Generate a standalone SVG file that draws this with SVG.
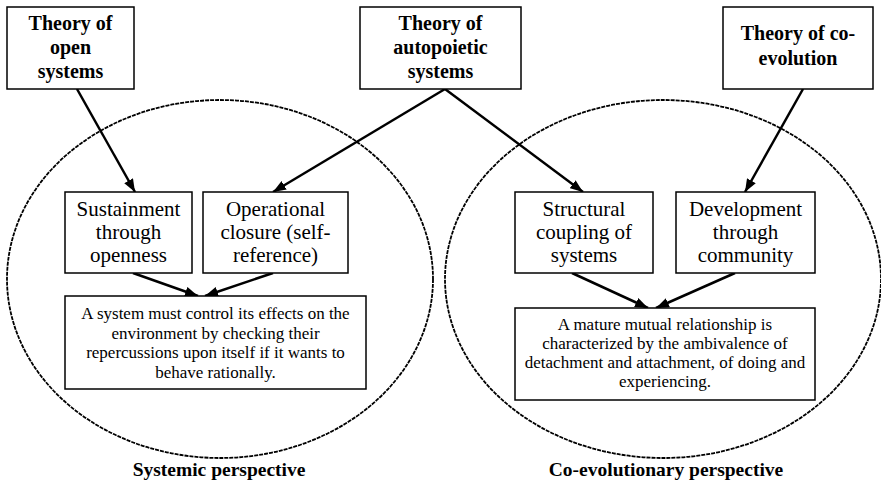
<svg xmlns="http://www.w3.org/2000/svg" width="881" height="493" viewBox="0 0 881 493">
<style>
.box{fill:#fff;stroke:#000;stroke-width:1.5}
.ell{fill:none;stroke:#000;stroke-width:1.8;stroke-dasharray:4 1}
text{font-family:'Liberation Serif','Times New Roman',serif;fill:#000;text-anchor:middle}
.title{font-weight:bold;font-size:20px}
.mid{font-size:21px}
.small{font-size:17px}
.persp{font-weight:bold;font-size:19.5px}
.arr{stroke:#000;stroke-width:2.5;fill:none;marker-end:url(#ah)}
</style>
<defs>
<marker id="ah" markerUnits="userSpaceOnUse" viewBox="0 0 13 10" refX="13" refY="5" markerWidth="13" markerHeight="10" orient="auto">
<path d="M0,0 L13,5 L0,10 Z" fill="#000"/>
</marker>
</defs>
<rect width="881" height="493" fill="#fff"/>
<g id="ellipses">
<ellipse class="ell" cx="220" cy="279" rx="213" ry="179"/>
<ellipse class="ell" cx="663" cy="279" rx="218" ry="179"/>
</g>
<g id="connectors">
<line class="arr" x1="77" y1="89" x2="135" y2="192"/>
<line class="arr" x1="445" y1="89" x2="273" y2="192"/>
<line class="arr" x1="445" y1="89" x2="583" y2="192"/>
<line class="arr" x1="803" y1="89" x2="745" y2="192"/>
<line class="arr" x1="133" y1="273" x2="198" y2="296"/>
<line class="arr" x1="273" y1="273" x2="205" y2="296"/>
<line class="arr" x1="572" y1="273" x2="648" y2="308"/>
<line class="arr" x1="735" y1="273" x2="656" y2="308"/>
</g>
<g id="n-open">
<rect class="box" x="7" y="7" width="127" height="82"/>
<text class="title" x="70.5" y="30">Theory of</text>
<text class="title" x="70.5" y="54">open</text>
<text class="title" x="70.5" y="78">systems</text>
</g>
<g id="n-auto">
<rect class="box" x="360" y="7" width="161" height="82"/>
<text class="title" x="440.5" y="30">Theory of</text>
<text class="title" x="440.5" y="54">autopoietic</text>
<text class="title" x="440.5" y="78">systems</text>
</g>
<g id="n-coevo">
<rect class="box" x="723" y="7" width="150" height="82"/>
<text class="title" x="798" y="40">Theory of co-</text>
<text class="title" x="798" y="65">evolution</text>
</g>
<g id="n-sustain">
<rect class="box" x="65" y="192" width="127" height="81"/>
<text class="mid" x="128.5" y="216">Sustainment</text>
<text class="mid" x="128.5" y="239">through</text>
<text class="mid" x="128.5" y="262">openness</text>
</g>
<g id="n-closure">
<rect class="box" x="203" y="192" width="145" height="81"/>
<text class="mid" x="275.5" y="216">Operational</text>
<text class="mid" x="275.5" y="239">closure (self-</text>
<text class="mid" x="275.5" y="262">reference)</text>
</g>
<g id="n-structural">
<rect class="box" x="515" y="192" width="138" height="81"/>
<text class="mid" x="584" y="216">Structural</text>
<text class="mid" x="584" y="239">coupling of</text>
<text class="mid" x="584" y="262">systems</text>
</g>
<g id="n-development">
<rect class="box" x="676" y="192" width="139" height="81"/>
<text class="mid" x="745.5" y="216">Development</text>
<text class="mid" x="745.5" y="239">through</text>
<text class="mid" x="745.5" y="262">community</text>
</g>
<g id="n-systemic-stmt">
<rect class="box" x="65" y="296" width="301" height="93"/>
<text class="small" x="215.5" y="319">A system must control its effects on the</text>
<text class="small" x="215.5" y="339">environment by checking their</text>
<text class="small" x="215.5" y="358">repercussions upon itself if it wants to</text>
<text class="small" x="215.5" y="378">behave rationally.</text>
</g>
<g id="n-coevo-stmt">
<rect class="box" x="515" y="308" width="300" height="92"/>
<text class="small" x="665" y="330">A mature mutual relationship is</text>
<text class="small" x="665" y="349">characterized by the ambivalence of</text>
<text class="small" x="665" y="368">detachment and attachment, of doing and</text>
<text class="small" x="665" y="387">experiencing.</text>
</g>
<g id="labels">
<text class="persp" x="219" y="476">Systemic perspective</text>
<text class="persp" x="666" y="476">Co-evolutionary perspective</text>
</g>
</svg>
